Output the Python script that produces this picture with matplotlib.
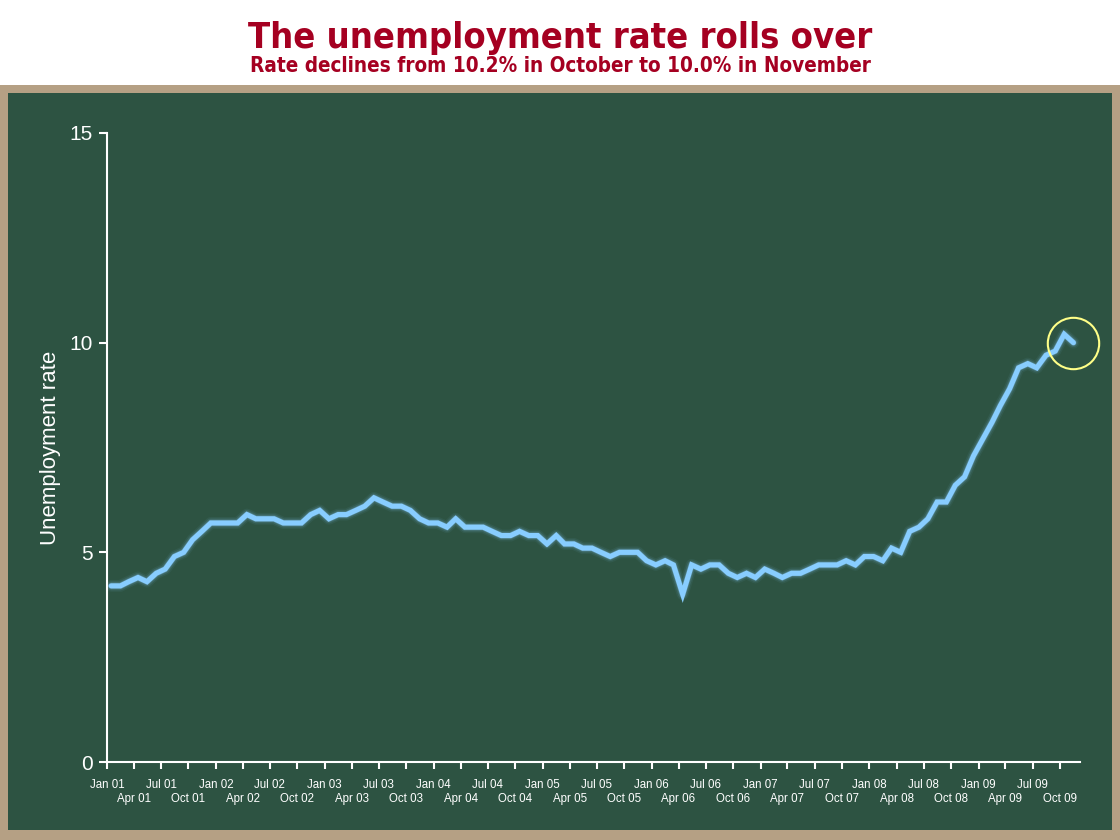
import matplotlib
matplotlib.use("Agg")
import matplotlib.pyplot as plt
from matplotlib.patches import Rectangle
import pandas as pd

# ---- data ----
rate = [
    4.2, 4.2, 4.3, 4.4, 4.3, 4.5, 4.6, 4.9, 5.0, 5.3, 5.5, 5.7,   # 2001
    5.7, 5.7, 5.7, 5.9, 5.8, 5.8, 5.8, 5.7, 5.7, 5.7, 5.9, 6.0,   # 2002
    5.8, 5.9, 5.9, 6.0, 6.1, 6.3, 6.2, 6.1, 6.1, 6.0, 5.8, 5.7,   # 2003
    5.7, 5.6, 5.8, 5.6, 5.6, 5.6, 5.5, 5.4, 5.4, 5.5, 5.4, 5.4,   # 2004
    5.2, 5.4, 5.2, 5.2, 5.1, 5.1, 5.0, 4.9, 5.0, 5.0, 5.0, 4.8,   # 2005
    4.7, 4.8, 4.7, 4.0, 4.7, 4.6, 4.7, 4.7, 4.5, 4.4, 4.5, 4.4,   # 2006
    4.6, 4.5, 4.4, 4.5, 4.5, 4.6, 4.7, 4.7, 4.7, 4.8, 4.7, 4.9,   # 2007
    4.9, 4.8, 5.1, 5.0, 5.5, 5.6, 5.8, 6.2, 6.2, 6.6, 6.8, 7.3,   # 2008
    7.7, 8.1, 8.5, 8.9, 9.4, 9.5, 9.4, 9.7, 9.8, 10.2, 10.0,      # 2009
]
dates = pd.date_range("2001-01-01", periods=len(rate), freq="MS") + pd.Timedelta(days=14)
tick_dates = pd.date_range("2001-01-01", "2009-10-01", freq="3MS")
tick_labels = [d.strftime("%b %y") for d in tick_dates]
y_ticks = [0, 5, 10, 15]

title = "The unemployment rate rolls over"
subtitle = "Rate declines from 10.2% in October to 10.0% in November"
ylabel = "Unemployment rate"

# ---- style ----
W, H = 1120, 840
fig = plt.figure(figsize=(W / 100, H / 100), dpi=100, facecolor="white")
tan = "#B5A084"
green = "#2D5342"
fig.patches.append(Rectangle((0, 0), 1, 1 - 85 / H, transform=fig.transFigure,
                             facecolor=tan, edgecolor="none", zorder=-20))
fig.patches.append(Rectangle((8 / W, 10 / H), (1112 - 8) / W, (830 - 93) / H,
                             transform=fig.transFigure, facecolor=green,
                             edgecolor="none", zorder=-10))

ax = fig.add_axes([107 / W, 1 - 762 / H, (1080 - 107) / W, (762 - 133) / H])
ax.set_facecolor("none")
ax.set_zorder(5)

line_color = "#88CDFF"
for lw, a in [(12, 0.06), (9, 0.12), (6.5, 0.25)]:
    ax.plot(dates, rate, color=line_color, lw=lw * 0.72, alpha=a,
            solid_joinstyle="round", solid_capstyle="round", zorder=2)
ax.plot(dates, rate, color=line_color, lw=3.7, solid_joinstyle="miter",
        solid_capstyle="round", zorder=3)

# highlight circle around the latest value
ax.plot(dates[-1:], rate[-1:], marker="o", markersize=37, markerfacecolor="none",
        markeredgecolor="#FFFF88", markeredgewidth=1.5, zorder=4, clip_on=False)

xmin = pd.Timestamp("2001-01-01")
xmax = pd.Timestamp("2009-12-07")
ax.set_xlim(xmin, xmax)
ax.set_ylim(0, 15)

for s in ["top", "right"]:
    ax.spines[s].set_visible(False)
for s in ["left", "bottom"]:
    ax.spines[s].set_color("white")
    ax.spines[s].set_linewidth(1.5)

ax.set_yticks(y_ticks)
ax.set_yticklabels([str(v) for v in y_ticks])

# alternate rows: Jan/Jul on the first row (major), Apr/Oct on the second (minor)
ax.set_xticks(list(tick_dates[0::2]))
ax.set_xticklabels(tick_labels[0::2])
ax.set_xticks(list(tick_dates[1::2]), minor=True)
ax.set_xticklabels(tick_labels[1::2], minor=True)

ax.tick_params(axis="y", colors="white", length=6, width=1.5, labelsize=15, pad=4)
ax.tick_params(axis="x", which="major", colors="white", length=5, width=1.5,
               labelsize=8.3, pad=7)
ax.tick_params(axis="x", which="minor", colors="white", length=5, width=1.5,
               labelsize=8.3, pad=17)
for t in (ax.get_yticklabels() + ax.get_xticklabels() + ax.get_xticklabels(minor=True)):
    t.set_fontfamily(["Liberation Sans", "DejaVu Sans"])
    t.set_color("white")

ax.set_ylabel(ylabel, color="white", fontsize=16, family=["Liberation Sans", "DejaVu Sans"],
              labelpad=6)

fig.text(0.5, 1 - 48 / H, title, ha="center", va="baseline", color="#A50021",
         fontsize=26, fontweight="bold", family=["DejaVu Sans"], fontstretch="condensed")
fig.text(0.5, 1 - 72 / H, subtitle, ha="center", va="baseline", color="#A50021",
         fontsize=14.9, fontweight="bold", family=["DejaVu Sans"], fontstretch="condensed")

fig.savefig("out.png", dpi=100, facecolor="white")
